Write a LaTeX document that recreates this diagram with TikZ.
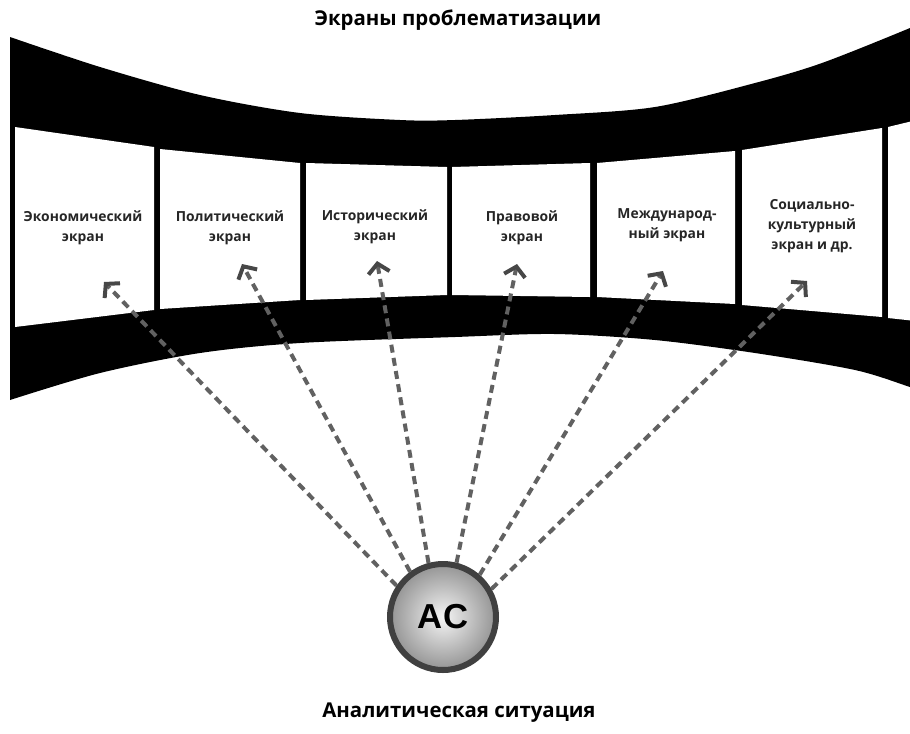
\documentclass[tikz,border=0pt]{standalone}
\usepackage{fontspec}
\setmainfont{Open Sans}
\newfontfamily\acfont{Liberation Sans}
\usetikzlibrary{arrows.meta}
\begin{document}
\begin{tikzpicture}[x=0.75pt,y=-0.75pt,
  lbl/.style={font=\bfseries\fontsize{10.4}{15}\selectfont, align=center, text=black!85, inner sep=0pt},
  ttl/.style={font=\bfseries\fontsize{15.3}{18}\selectfont, text=black, inner sep=0pt},
  win/.style={fill=white},
  arr/.style={draw=black!62, line width=3pt, dash pattern=on 6pt off 4pt,
    -{Straight Barb[length=7pt,width=16pt,line width=3pt,color=black!72]}},
  acnode/.style={circle, draw=black!75, line width=4.5pt, minimum size=79.5pt, inner sep=0pt,
    inner color=black!4, outer color=black!42,
    font=\acfont\bfseries\fontsize{26}{30}\selectfont}
  ]
\useasboundingbox (0,0) rectangle (910,733);
% film strip
\fill[black] plot[smooth] coordinates {(10,37) (100,67) (200,95) (300,113) (400,120) (455,120) (555,115) (655,107) (755,83) (822,63) (910,28) (940,14)}
  -- plot[smooth] coordinates {(940,397) (910,387) (855,370) (755,353) (655,340) (555,334) (455,337) (300,343) (200,353) (100,373) (10,400)}
  -- cycle;
% windows
\fill[win] (15,127) -- (154,147) -- (154,310) -- (15,327) -- cycle;
\fill[win] (160,149) -- (300,163) -- (300,300) -- (160,309) -- cycle;
\fill[win] (306,163) -- (447,167) -- (447,295) -- (306,300) -- cycle;
\fill[win] (452,167) -- (590,163) -- (590,297) -- (452,295) -- cycle;
\fill[win] (597,163) -- (735,151) -- (735,304) -- (597,297) -- cycle;
\fill[win] (742,150) -- (882,128) -- (882,317) -- (742,305) -- cycle;
\fill[win] (888,127) -- (925,118) -- (925,322) -- (888,318) -- cycle;
% labels
\node[lbl] (l1) at (83,228) {Экономический\\экран};
\node[lbl] (l2) at (230,228) {Политический\\экран};
\node[lbl] (l3) at (375,227) {Исторический\\экран};
\node[lbl] (l4) at (522,228) {Правовой\\экран};
\node[lbl] (l5) at (667,225) {Международ-\\ный экран};
\node[lbl] (l6) at (812,226) {Социально-\\культурный\\экран и др.};
% titles
\node[ttl] (top) at (458,20) {Экраны проблематизации};
\node[ttl] (bottom) at (459,713) {Аналитическая ситуация};
% centre
\node[acnode] (ac) at (443,617) {AC};
% arrow ends
\coordinate (t1) at (104,282);
\coordinate (t2) at (242,264);
\coordinate (t3) at (377,261);
\coordinate (t4) at (517,264);
\coordinate (t5) at (663,271);
\coordinate (t6) at (807,281);
\draw[arr] (ac.146) -- (t1);
\draw[arr] (ac.126) -- (t2);
\draw[arr] (ac.105) -- (t3);
\draw[arr] (ac.76) -- (t4);
\draw[arr] (ac.49) -- (t5);
\draw[arr] (ac.30) -- (t6);
\end{tikzpicture}
\end{document}
